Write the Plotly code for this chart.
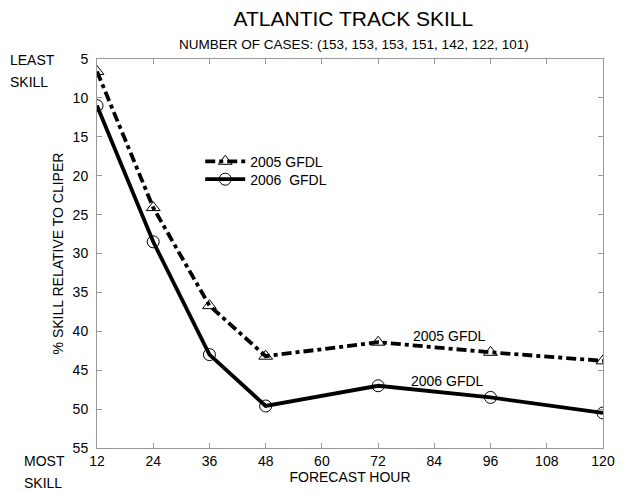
import plotly.graph_objects as go

hours = [12, 24, 36, 48, 72, 96, 120]
gfdl_2005 = [6.6, 24.1, 36.7, 43.2, 41.4, 42.7, 43.8]
gfdl_2006 = [11.0, 28.5, 43.0, 49.6, 47.0, 48.5, 50.5]
x_ticks = [12, 24, 36, 48, 60, 72, 84, 96, 108, 120]
y_ticks = [5, 10, 15, 20, 25, 30, 35, 40, 45, 50, 55]

FONT = "Liberation Sans, Arial, sans-serif"

fig = go.Figure()
fig.add_trace(go.Scatter(
    x=hours, y=gfdl_2005, mode="lines+markers", name="2005 GFDL", legend="legend",
    line=dict(color="black", width=3.8, dash="10px,4px,4px,4px"),
    marker=dict(symbol="triangle-up-open", size=12, color="black", line=dict(width=1)),
))
fig.add_trace(go.Scatter(
    x=hours, y=gfdl_2006, mode="lines+markers", name="2006  GFDL", legend="legend2",
    line=dict(color="black", width=3.8),
    marker=dict(symbol="circle-open-dot", size=12, color="black", line=dict(width=1)),
))

axis_common = dict(
    showline=True, linecolor="#999999", linewidth=1, mirror="ticks",
    ticks="inside", ticklen=5, tickcolor="#999999", showgrid=False, zeroline=False,
    tickfont=dict(family=FONT, size=14, color="black"),
)
fig.update_xaxes(range=[12, 120], tickvals=x_ticks, ticktext=[str(v) for v in x_ticks],
                 title=dict(text="FORECAST HOUR", font=dict(family=FONT, size=14, color="black"), standoff=0),
                 **axis_common)
fig.update_yaxes(range=[55, 5], tickvals=y_ticks, ticktext=[str(v) for v in y_ticks],
                 ticklabelstandoff=5,
                 title=dict(text="% SKILL RELATIVE TO CLIPER", font=dict(family=FONT, size=14, color="black"), standoff=5),
                 **axis_common)

fig.add_annotation(x=87.2, y=40.6, text="2005 GFDL", showarrow=False,
                   font=dict(family=FONT, size=14, color="black"))
fig.add_annotation(x=86.8, y=46.4, text="2006 GFDL", showarrow=False,
                   font=dict(family=FONT, size=14, color="black"))

side_font = dict(family=FONT, size=14, color="black")
fig.add_annotation(xref="paper", yref="paper", x=-0.1765, y=0.997, xanchor="left", yanchor="middle",
                   text="LEAST", showarrow=False, font=side_font)
fig.add_annotation(xref="paper", yref="paper", x=-0.1765, y=0.941, xanchor="left", yanchor="middle",
                   text="SKILL", showarrow=False, font=side_font)
fig.add_annotation(xref="paper", yref="paper", x=-0.149, y=-0.033, xanchor="left", yanchor="middle",
                   text="MOST", showarrow=False, font=side_font)
fig.add_annotation(xref="paper", yref="paper", x=-0.149, y=-0.09, xanchor="left", yanchor="middle",
                   text="SKILL", showarrow=False, font=side_font)

fig.add_annotation(xref="paper", yref="paper", x=0.507, y=1.036, xanchor="center", yanchor="middle",
                   text="NUMBER OF CASES: (153, 153, 153, 151, 142, 122, 101)", showarrow=False,
                   font=dict(family=FONT, size=13.5, color="black"))

legend_common = dict(xanchor="left", yanchor="middle", bgcolor="rgba(0,0,0,0)",
                     font=dict(family=FONT, size=14, color="black"), itemwidth=40)

fig.update_layout(
    width=619, height=483,
    margin=dict(l=89, r=20, t=51, b=42),
    paper_bgcolor="white", plot_bgcolor="white",
    title=dict(text="ATLANTIC TRACK SKILL", x=0.558, xanchor="center", xref="container",
               y=0.978, yanchor="middle", yref="container",
               font=dict(family=FONT, size=21, color="black")),
    showlegend=True,
    legend=dict(x=0.204, y=0.736, **legend_common),
    legend2=dict(x=0.204, y=0.69, **legend_common),
)

fig.write_html("out.html")
